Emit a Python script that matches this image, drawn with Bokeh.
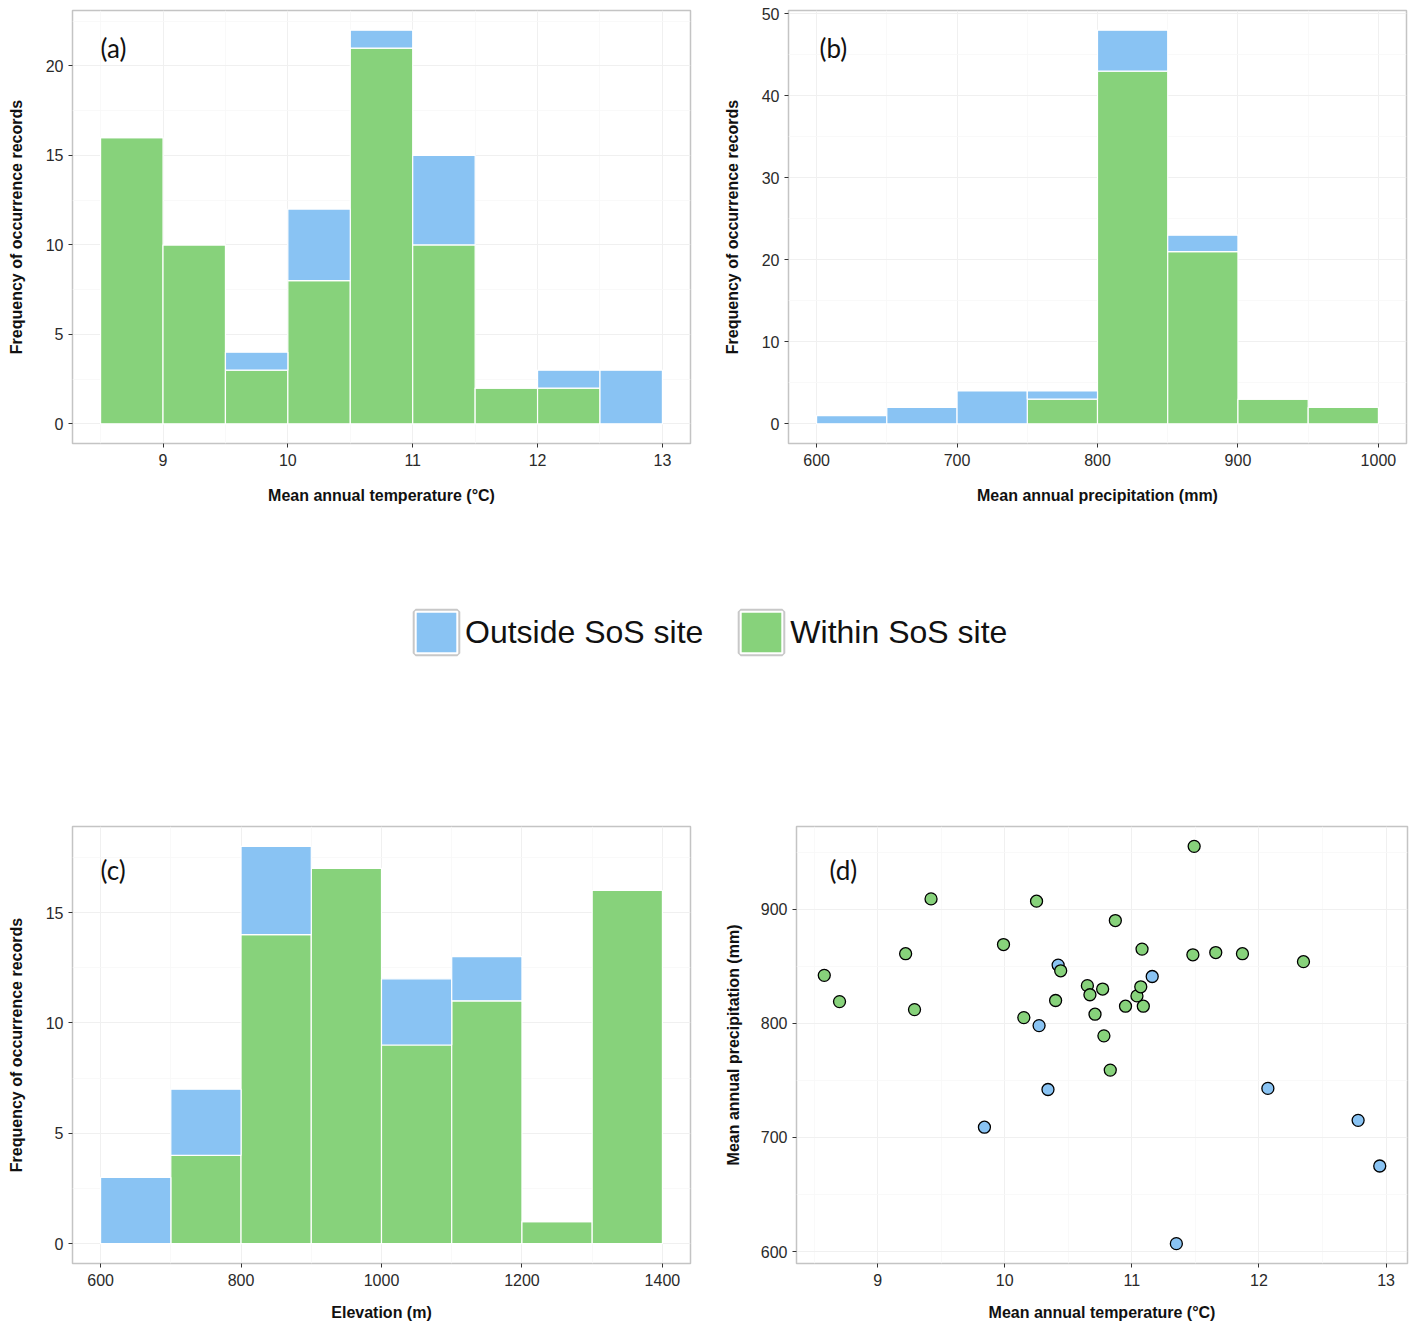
from bokeh.plotting import figure
from bokeh.models import Range1d, FixedTicker, Label, Legend, LegendItem, ColumnDataSource
from bokeh.layouts import column, row
from bokeh.embed import file_html
from bokeh.resources import INLINE

# ---------------- data ----------------
temp_bin_edges = [8.5, 9.0, 9.5, 10.0, 10.5, 11.0, 11.5, 12.0, 12.5, 13.0]
temp_within_counts = [16, 10, 3, 8, 21, 10, 2, 2, 0]
temp_outside_counts = [0, 0, 1, 4, 1, 5, 0, 1, 3]

precip_bin_edges = [600, 650, 700, 750, 800, 850, 900, 950, 1000]
precip_within_counts = [0, 0, 0, 3, 43, 21, 3, 2]
precip_outside_counts = [1, 2, 4, 1, 5, 2, 0, 0]

elev_bin_edges = [600, 700, 800, 900, 1000, 1100, 1200, 1300, 1400]
elev_within_counts = [0, 4, 14, 17, 9, 11, 1, 16]
elev_outside_counts = [3, 3, 4, 0, 3, 2, 0, 0]

site_temp_within = [8.58, 8.70, 9.22, 9.29, 9.42, 9.99, 10.15, 10.25, 10.40, 10.44,
                    10.65, 10.67, 10.71, 10.77, 10.78, 10.83, 10.87, 10.95, 11.04,
                    11.07, 11.08, 11.09, 11.48, 11.49, 11.66, 11.87, 12.35]
site_precip_within = [842, 819, 861, 812, 909, 869, 805, 907, 820, 846,
                      833, 825, 808, 830, 789, 759, 890, 815, 824,
                      832, 865, 815, 860, 955, 862, 861, 854]
site_temp_outside = [9.84, 10.27, 10.34, 10.42, 11.16, 11.35, 12.07, 12.78, 12.95]
site_precip_outside = [709, 798, 742, 851, 841, 607, 743, 715, 675]

temp_ticks = [9, 10, 11, 12, 13]
temp_minor = [8.5, 9.5, 10.5, 11.5, 12.5]
precip_ticks = [600, 700, 800, 900, 1000]
precip_minor = [650, 750, 850, 950]
elev_ticks = [600, 800, 1000, 1200, 1400]
elev_minor = [700, 900, 1100, 1300]

series_labels = ["Outside SoS site", "Within SoS site"]
BLUE = "#89C3F3"
GREEN = "#87D27B"

FONT = "Liberation Sans"


def expand(lo, hi, f=0.05):
    d = (hi - lo) * f
    return lo - d, hi + d


def base_fig(width, height, bl, br, bt, bb, xr, yr, xt, xm, yt, ym, xlabel, ylabel,
             xstand, ystand=18):
    p = figure(width=width, height=height, x_range=Range1d(*xr), y_range=Range1d(*yr),
               output_backend="svg", toolbar_location=None,
               min_border_left=bl, min_border_right=br, min_border_top=bt, min_border_bottom=bb)
    p.background_fill_color = "white"
    p.border_fill_color = "white"
    p.outline_line_color = "#C4C4C4"
    p.outline_line_width = 1.5
    xtk = FixedTicker(ticks=xt, minor_ticks=xm)
    ytk = FixedTicker(ticks=yt, minor_ticks=ym)
    p.xaxis.ticker = xtk
    p.yaxis.ticker = ytk
    p.xgrid.ticker = xtk
    p.ygrid.ticker = ytk
    for g in (p.xgrid[0], p.ygrid[0]):
        g.grid_line_color = "#F0F0F0"
        g.grid_line_width = 1
        g.minor_grid_line_color = "#F7F7F7"
        g.minor_grid_line_width = 0.8
    for ax in (p.xaxis[0], p.yaxis[0]):
        ax.axis_line_color = None
        ax.major_tick_line_color = "#333333"
        ax.major_tick_line_width = 1
        ax.major_tick_out = 4
        ax.major_tick_in = 0
        ax.minor_tick_line_color = None
        ax.major_label_text_font = FONT
        ax.major_label_text_font_size = "16px"
        ax.major_label_text_color = "#2a2a2a"
        ax.axis_label_text_font = FONT
        ax.axis_label_text_font_style = "bold"
        ax.axis_label_text_font_size = "16px"
        ax.axis_label_text_color = "#111111"
    p.xaxis.axis_label = xlabel
    p.yaxis.axis_label = ylabel
    p.xaxis.major_label_standoff = 6
    p.yaxis.major_label_standoff = 5
    p.xaxis.axis_label_standoff = xstand
    p.yaxis.axis_label_standoff = ystand
    return p


def add_hist(p, edges, within, outside):
    left = edges[:-1]
    right = edges[1:]
    zeros = [0] * len(within)
    total = [w + o for w, o in zip(within, outside)]
    src = ColumnDataSource(dict(left=left, right=right, zero=zeros, within=within, total=total))
    p.quad(left="left", right="right", bottom="zero", top="within", source=src,
           fill_color=GREEN, line_color="white", line_width=1.2)
    p.quad(left="left", right="right", bottom="within", top="total", source=src,
           fill_color=BLUE, line_color="white", line_width=1.2)


def add_tag(p, text, x, y):
    p.add_layout(Label(x=x, y=y, x_units="screen", y_units="screen", text=text,
                       text_font="Lato", text_font_size="26px", text_color="#111111",
                       text_baseline="middle", text_align="left"))


YLAB = "Frequency of occurrence records"

# (a) temperature histogram
ta = [w + o for w, o in zip(temp_within_counts, temp_outside_counts)]
fa = base_fig(720, 520, 72, 30, 10, 77,
              expand(temp_bin_edges[0], temp_bin_edges[-1]), expand(0, max(ta)),
              temp_ticks, temp_minor, [0, 5, 10, 15, 20], [2.5, 7.5, 12.5, 17.5, 22.5],
              "Mean annual temperature (°C)", YLAB, 18)
add_hist(fa, temp_bin_edges, temp_within_counts, temp_outside_counts)
add_tag(fa, "(a)", 28, 396)

# (b) precipitation histogram
tb = [w + o for w, o in zip(precip_within_counts, precip_outside_counts)]
fb = base_fig(696, 520, 67, 10, 10, 77,
              expand(precip_bin_edges[0], precip_bin_edges[-1]), expand(0, max(tb)),
              precip_ticks, precip_minor, [0, 10, 20, 30, 40, 50], [5, 15, 25, 35, 45],
              "Mean annual precipitation (mm)", YLAB, 18)
add_hist(fb, precip_bin_edges, precip_within_counts, precip_outside_counts)
add_tag(fb, "(b)", 31, 396)

# legend strip
fl = figure(width=1416, height=280, x_range=Range1d(0, 1), y_range=Range1d(0, 1),
            output_backend="svg", toolbar_location=None, min_border=0)
fl.outline_line_color = None
fl.axis.visible = False
fl.grid.visible = False
# legend-key holders, kept outside the visible range
key_src = ColumnDataSource(dict(left=[-5], right=[-4], bottom=[-5], top=[-4]))
rb1 = fl.quad(left="left", right="right", bottom="bottom", top="top", source=key_src,
              fill_alpha=0, line_color="#C8C8C8", line_width=6)
rb2 = fl.quad(left="left", right="right", bottom="bottom", top="top", source=key_src,
              fill_color=BLUE, line_color="white", line_width=2)
rg1 = fl.quad(left="left", right="right", bottom="bottom", top="top", source=key_src,
              fill_alpha=0, line_color="#C8C8C8", line_width=6)
rg2 = fl.quad(left="left", right="right", bottom="bottom", top="top", source=key_src,
              fill_color=GREEN, line_color="white", line_width=2)
legend = Legend(items=[LegendItem(label=series_labels[0], renderers=[rb1, rb2]),
                       LegendItem(label=series_labels[1], renderers=[rg1, rg2])],
                orientation="horizontal", location=(410, 142), margin=0, padding=0,
                spacing=32, glyph_width=52, glyph_height=52, label_standoff=3,
                label_text_font=FONT, label_text_font_size="32px", label_text_color="#111111",
                border_line_color=None, background_fill_alpha=0)
fl.add_layout(legend)

# (c) elevation histogram
tc = [w + o for w, o in zip(elev_within_counts, elev_outside_counts)]
fc = base_fig(720, 525, 72, 30, 26, 62,
              expand(elev_bin_edges[0], elev_bin_edges[-1]), expand(0, max(tc)),
              elev_ticks, elev_minor, [0, 5, 10, 15], [2.5, 7.5, 12.5, 17.5],
              "Elevation (m)", YLAB, 15)
add_hist(fc, elev_bin_edges, elev_within_counts, elev_outside_counts)
add_tag(fc, "(c)", 28, 394)

# (d) scatter
all_t = site_temp_within + site_temp_outside
all_p = site_precip_within + site_precip_outside
fd = base_fig(696, 525, 76, 9, 26, 62,
              expand(min(all_t), max(all_t)), expand(min(all_p), max(all_p)),
              temp_ticks, temp_minor, [600, 700, 800, 900], [650, 750, 850, 950],
              "Mean annual temperature (°C)", "Mean annual precipitation (mm)", 15, 16)
fd.scatter(site_temp_outside, site_precip_outside, size=12, fill_color=BLUE,
           line_color="black", line_width=1.3)
fd.scatter(site_temp_within, site_precip_within, size=12, fill_color=GREEN,
           line_color="black", line_width=1.3)
add_tag(fd, "(d)", 33, 394)

layout = column(row(fa, fb), fl, row(fc, fd))
open("out.html", "w").write(file_html(layout, INLINE))
